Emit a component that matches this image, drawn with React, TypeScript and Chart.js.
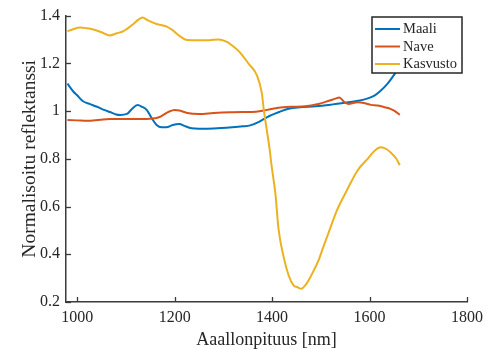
import React, { useEffect, useRef } from "react";
import { Chart, registerables } from "chart.js";

Chart.register(...registerables);

// ---- Data ----
const maaliNm = [980, 992, 1000, 1012, 1025, 1041, 1055, 1067, 1080, 1088, 1102, 1112, 1124, 1133, 1143, 1153, 1163, 1173, 1183, 1196, 1210, 1220, 1235, 1250, 1280, 1318, 1340, 1355, 1373, 1390, 1413, 1434, 1457, 1490, 1521, 1550, 1576, 1595, 1610, 1621, 1637, 1652, 1662];
const maali = [1.115, 1.082, 1.066, 1.041, 1.03, 1.018, 1.005, 0.996, 0.986, 0.984, 0.988, 1.008, 1.025, 1.018, 1.004, 0.97, 0.942, 0.932, 0.932, 0.942, 0.946, 0.938, 0.928, 0.926, 0.927, 0.932, 0.936, 0.94, 0.955, 0.975, 0.995, 1.01, 1.016, 1.02, 1.027, 1.035, 1.043, 1.052, 1.065, 1.082, 1.115, 1.157, 1.19];

const naveNm = [980, 1000, 1020, 1047, 1067, 1100, 1134, 1160, 1169, 1180, 1189, 1200, 1210, 1226, 1250, 1280, 1312, 1340, 1367, 1390, 1413, 1440, 1468, 1495, 1515, 1530, 1538, 1547, 1556, 1576, 1590, 1603, 1617, 1631, 1644, 1652, 1662];
const nave = [0.963, 0.961, 0.959, 0.964, 0.967, 0.967, 0.967, 0.97, 0.975, 0.988, 0.998, 1.004, 1.002, 0.992, 0.988, 0.992, 0.995, 0.996, 0.997, 1.005, 1.014, 1.018, 1.02, 1.03, 1.042, 1.052, 1.057, 1.04, 1.03, 1.037, 1.033, 1.026, 1.023, 1.016, 1.008, 1.0, 0.984];

const kasvustoNm = [980, 990, 1006, 1020, 1033, 1050, 1067, 1080, 1095, 1114, 1125, 1134, 1145, 1163, 1183, 1195, 1210, 1226, 1250, 1271, 1290, 1305, 1318, 1332, 1352, 1369, 1379, 1383, 1389, 1395, 1399, 1407, 1413, 1424, 1434, 1444, 1452, 1460, 1468, 1475, 1485, 1495, 1505, 1515, 1532, 1552, 1576, 1597, 1611, 1623, 1635, 1644, 1655, 1662];
const kasvusto = [1.334, 1.342, 1.35, 1.347, 1.342, 1.33, 1.317, 1.325, 1.335, 1.363, 1.382, 1.392, 1.38, 1.365, 1.355, 1.34, 1.315, 1.298, 1.297, 1.297, 1.3, 1.292, 1.275, 1.25, 1.198, 1.149, 1.074, 1.004, 0.922, 0.839, 0.77, 0.65, 0.509, 0.386, 0.311, 0.27, 0.262, 0.255, 0.27, 0.291, 0.33, 0.373, 0.43, 0.485, 0.579, 0.662, 0.753, 0.802, 0.835, 0.848, 0.84, 0.825, 0.8, 0.773];

const seriesLabels = ["Maali", "Nave", "Kasvusto"];
const seriesColors = ["#0072BD", "#D95319", "#EDB120"];

const xTickValues = [1000, 1200, 1400, 1600, 1800];
const yTickValues = [0.2, 0.4, 0.6, 0.8, 1.0, 1.2, 1.4];

const xTitle = "Aaallonpituus [nm]";
const yTitle = "Normalisoitu reflektanssi";

const FONT = "'Liberation Serif', 'Times New Roman', serif";
const TEXT = "#262626";
const AXIS = "#3a3a3a";

const toPoints = (xs: number[], ys: number[]) => xs.map((x, i) => ({ x, y: ys[i] }));

const inwardTicks = {
  id: "inwardTicks",
  afterDatasetsDraw(chart: any) {
    const { ctx, chartArea, scales } = chart;
    const xs = scales.x;
    const ys = scales.y;
    ctx.save();
    ctx.strokeStyle = AXIS;
    ctx.lineWidth = 1.3;
    for (const t of xTickValues) {
      const px = Math.round(xs.getPixelForValue(t)) + 0.5;
      ctx.beginPath();
      ctx.moveTo(px, chartArea.bottom);
      ctx.lineTo(px, chartArea.bottom - 5);
      ctx.stroke();
    }
    for (const t of yTickValues) {
      const py = Math.round(ys.getPixelForValue(t)) + 0.5;
      ctx.beginPath();
      ctx.moveTo(chartArea.left, py);
      ctx.lineTo(chartArea.left + 5, py);
      ctx.stroke();
    }
    ctx.restore();
  },
};

const insideLegend = {
  id: "insideLegend",
  afterDatasetsDraw(chart: any) {
    const { ctx } = chart;
    const bx = 372, by = 17, bw = 90, bh = 56;
    ctx.save();
    ctx.fillStyle = "#ffffff";
    ctx.fillRect(bx, by, bw, bh);
    ctx.strokeStyle = "#262626";
    ctx.lineWidth = 1.5;
    ctx.strokeRect(bx, by, bw, bh);
    ctx.font = `14.5px ${FONT}`;
    ctx.textBaseline = "middle";
    ctx.textAlign = "left";
    chart.data.datasets.forEach((ds: any, i: number) => {
      const cy = by + 12 + i * 17.5;
      ctx.strokeStyle = ds.borderColor;
      ctx.lineWidth = 2;
      ctx.beginPath();
      ctx.moveTo(bx + 3, cy);
      ctx.lineTo(bx + 28, cy);
      ctx.stroke();
      ctx.fillStyle = TEXT;
      ctx.fillText(ds.label, bx + 31, cy + 0.5);
    });
    ctx.restore();
  },
};

export default function App() {
  const ref = useRef<HTMLCanvasElement | null>(null);

  useEffect(() => {
    if (!ref.current) return;
    const sets = [
      toPoints(maaliNm, maali),
      toPoints(naveNm, nave),
      toPoints(kasvustoNm, kasvusto),
    ];
    const chart = new Chart(ref.current, {
      type: "line",
      data: {
        datasets: sets.map((d, i) => ({
          label: seriesLabels[i],
          data: d,
          borderColor: seriesColors[i],
          backgroundColor: seriesColors[i],
          borderWidth: 2,
          pointRadius: 0,
          fill: false,
          cubicInterpolationMode: "monotone" as const,
          order: 2 - i,
        })),
      },
      options: {
        responsive: false,
        animation: false,
        devicePixelRatio: 1,
        layout: { padding: { left: 0, top: 11, right: 20, bottom: 0 } },
        plugins: {
          legend: { display: false },
          tooltip: { enabled: false },
        },
        scales: {
          x: {
            type: "linear",
            min: 977,
            max: 1800,
            afterBuildTicks: (scale: any) => {
              scale.ticks = xTickValues.map((v) => ({ value: v }));
            },
            afterFit: (scale: any) => {
              scale.height = 47;
            },
            grid: { display: false, drawTicks: false },
            border: { display: true, color: AXIS, width: 1.5 },
            ticks: {
              autoSkip: false,
              maxRotation: 0,
              padding: 6,
              color: TEXT,
              font: { family: FONT, size: 16 },
              callback: (v: any) => String(v),
            },
            title: {
              display: true,
              text: xTitle,
              color: TEXT,
              font: { family: FONT, size: 18, lineHeight: 1 },
              padding: { top: 0, bottom: 0 },
            },
          },
          y: {
            type: "linear",
            min: 0.2,
            max: 1.4,
            afterBuildTicks: (scale: any) => {
              scale.ticks = yTickValues.map((v) => ({ value: v }));
            },
            afterFit: (scale: any) => {
              scale.width = 66;
            },
            grid: { display: false, drawTicks: false },
            border: { display: true, color: AXIS, width: 1.5 },
            ticks: {
              autoSkip: false,
              padding: 6,
              color: TEXT,
              font: { family: FONT, size: 16 },
              callback: (v: any) => (Math.abs(Number(v) - 1) < 1e-9 ? "1" : Number(v).toFixed(1)),
            },
            title: {
              display: true,
              text: yTitle,
              color: TEXT,
              font: { family: FONT, size: 19.5, lineHeight: 1 },
              padding: { top: 20, bottom: 0 },
            },
          },
        },
      },
      plugins: [inwardTicks, insideLegend],
    });
    return () => chart.destroy();
  }, []);

  return (
    <div style={{ position: "fixed", left: 0, top: 0, width: 489, height: 349, background: "#fff" }}>
      <canvas ref={ref} width={489} height={349} style={{ display: "block" }} />
    </div>
  );
}
